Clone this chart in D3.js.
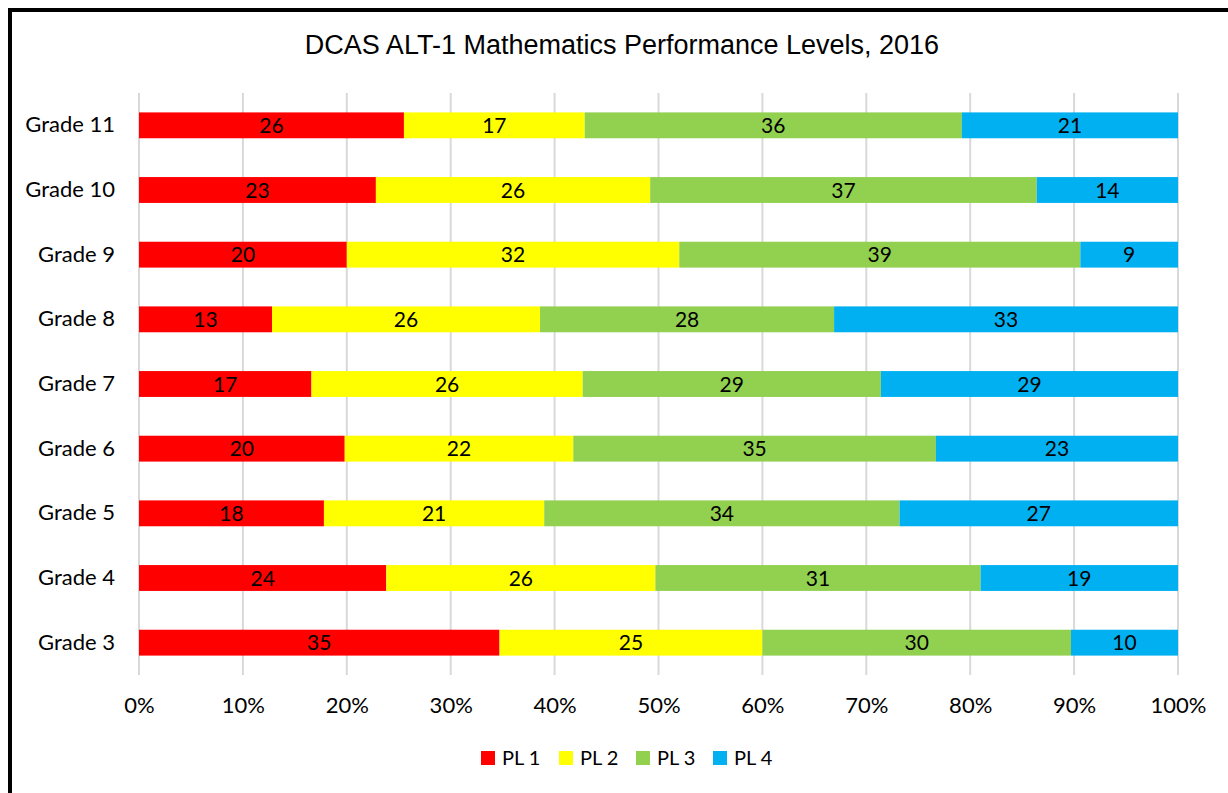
<!DOCTYPE html>
<html><head><meta charset="utf-8">
<script src="https://cdn.jsdelivr.net/npm/d3@7"></script>
<style>html,body{margin:0;padding:0;background:#fff;overflow:hidden}</style>
</head><body>
<svg id="chart" width="1228" height="793"></svg>
<script>
const title = "DCAS ALT-1 Mathematics Performance Levels, 2016";
const grades = ["Grade 11","Grade 10","Grade 9","Grade 8","Grade 7","Grade 6","Grade 5","Grade 4","Grade 3"];
const seriesNames = ["PL 1","PL 2","PL 3","PL 4"];
const seriesColors = ["#FF0000","#FFFF00","#92D050","#00B0F0"];
const pl1 = [25.5, 22.8, 20.0, 12.8, 16.6, 19.8, 17.8, 23.8, 34.7];
const pl2 = [17.4, 26.4, 32.0, 25.8, 26.1, 22.0, 21.2, 25.9, 25.3];
const pl3 = [36.3, 37.2, 38.6, 28.3, 28.7, 34.9, 34.2, 31.3, 29.7];
const pl4 = [20.8, 13.6, 9.4, 33.1, 28.6, 23.3, 26.8, 19.0, 10.3];
const xTicks = [0,10,20,30,40,50,60,70,80,90,100];

(function(){
const svg = d3.select("#chart");
const font = "Lato, 'Open Sans', sans-serif";
svg.append("rect").attr("x",10).attr("y",10).attr("width",1300).attr("height",900)
  .attr("fill","none").attr("stroke","#000").attr("stroke-width",4);

const pLeft = 139, pRight = 1178, pTop = 93, pBottom = 675;
const x = d3.scaleLinear().domain([0,100]).range([pLeft,pRight]);
const y = d3.scaleBand().domain(grades).range([pTop,pBottom]).paddingInner(0.6).paddingOuter(0.3);

svg.append("g").selectAll("line").data(xTicks).join("line")
  .attr("x1",d=>x(d)).attr("x2",d=>x(d)).attr("y1",pTop).attr("y2",pBottom)
  .attr("stroke","#d9d9d9").attr("stroke-width",2);

const rows = grades.map((g,i)=>({grade:g, "PL 1":pl1[i], "PL 2":pl2[i], "PL 3":pl3[i], "PL 4":pl4[i]}));
const stack = d3.stack().keys(seriesNames)(rows);

const gSeries = svg.append("g").selectAll("g").data(stack).join("g")
  .attr("fill",(d,i)=>seriesColors[i]);
gSeries.selectAll("rect").data(d=>d).join("rect")
  .attr("x",d=>x(d[0])).attr("width",d=>x(d[1])-x(d[0]))
  .attr("y",d=>y(d.data.grade)).attr("height",y.bandwidth());

const lab = svg.append("g");
stack.forEach(s=>{
  s.forEach(d=>{
    lab.append("text").attr("x",(x(d[0])+x(d[1]))/2).attr("y",y(d.data.grade)+y.bandwidth()/2)
      .attr("dy","0.36em").attr("text-anchor","middle").attr("font-family",font).attr("font-size",21)
      .attr("fill","#000").text(Math.round(d[1]-d[0]));
  });
});

const yAxis = d3.axisLeft(y).tickSize(0).tickPadding(24);
const ya = svg.append("g").attr("transform",`translate(${pLeft},0)`).call(yAxis);
ya.select(".domain").remove();
ya.selectAll("text").attr("font-family",font).attr("font-size",22).attr("fill","#000");

const xAxis = d3.axisBottom(x).tickValues(xTicks).tickFormat(d=>d+"%").tickSize(0).tickPadding(22);
const xa = svg.append("g").attr("transform",`translate(0,${pBottom})`).call(xAxis);
xa.select(".domain").remove();
xa.selectAll("text").attr("font-family",font).attr("font-size",22).attr("fill","#000");

svg.append("text").attr("x",622).attr("y",45).attr("dy","0.35em").attr("text-anchor","middle")
  .attr("font-family","'Liberation Sans', Arial, sans-serif").attr("font-size",27).attr("fill","#000").text(title);

const legX = [481, 559, 636, 713];
const leg = svg.append("g").selectAll("g").data(seriesNames).join("g")
  .attr("transform",(d,i)=>`translate(${legX[i]},751)`);
leg.append("rect").attr("width",14).attr("height",14).attr("fill",(d,i)=>seriesColors[i]);
leg.append("text").attr("x",21).attr("y",7).attr("dy","0.36em").attr("font-family",font)
  .attr("font-size",20).attr("fill","#000").text(d=>d);
})();
</script>
</body></html>
